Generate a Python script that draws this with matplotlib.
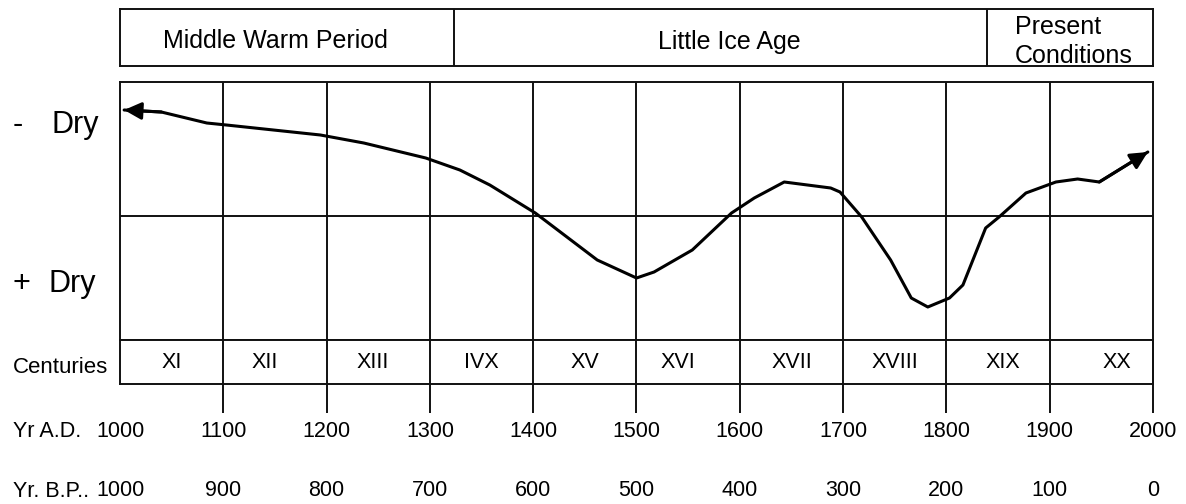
import matplotlib
matplotlib.use("Agg")
import matplotlib.pyplot as plt
import matplotlib.transforms as mtransforms

plt.rcParams['font.family'] = ['Liberation Sans', 'DejaVu Sans']

# dryness curve (0 = mean line, + up = less dry)
years = [1004, 1040, 1084, 1103, 1194, 1236, 1296, 1329, 1358, 1402, 1462, 1500,
         1517, 1554, 1592, 1614, 1643, 1688, 1697, 1718, 1746, 1766, 1782,
         1803, 1816, 1838, 1851, 1877, 1906, 1927, 1948, 1995]
dryness = [106, 104, 93, 91, 81, 73, 58, 46, 31, 3, -44, -62,
           -56, -34, 3, 18, 34, 28, 24, -1, -44, -82, -91,
           -82, -69, -12, -1, 23, 34, 37, 34, 64]

periods = ['Middle Warm Period', 'Little Ice Age', 'Present\nConditions']
period_bounds = [1000, 1323, 1839, 2000]

century_labels = ['XI', 'XII', 'XIII', 'IVX', 'XV', 'XVI', 'XVII', 'XVIII', 'XIX', 'XX']
century_pos = [1050, 1140, 1245, 1350, 1450, 1540, 1650, 1750, 1855, 1965]

ad_ticks = list(range(1000, 2001, 100))
bp_labels = ['1000', '900', '800', '700', '600', '500', '400', '300', '200', '100', '0']

W, H = 1186, 504
LW = 1.4
INK = '#111111'


def fx(px):
    return px / W


def fy(py):
    return 1 - py / H


def box(top, bottom):
    return [fx(120), fy(bottom), fx(1153) - fx(120), fy(top) - fy(bottom)]


fig = plt.figure(figsize=(W / 100, H / 100), dpi=100)

ax_top = fig.add_axes(box(9, 66))
ax = fig.add_axes(box(82, 340))
ax_cen = fig.add_axes(box(340, 384))

for a in (ax_top, ax, ax_cen):
    a.set_xlim(1000, 2000)
    a.set_xticks([])
    a.set_yticks([])
    for s in a.spines.values():
        s.set_linewidth(LW)
        s.set_color(INK)

# periods band
ax_top.set_ylim(0, 1)
ax_top.vlines(period_bounds[1:-1], 0, 1, color=INK, lw=LW)
ax_top.text(1150, 0.32, periods[0], ha='center', va='baseline', fontsize=18)
ax_top.text(1590, 0.30, periods[1], ha='center', va='baseline', fontsize=18)
ax_top.text(1866, 0.06, periods[2], ha='left', va='baseline', fontsize=18,
            linespacing=1.22)

# main panel
ax.set_ylim(-124, 134)
ax.axhline(0, color=INK, lw=LW)
ax.vlines(ad_ticks[1:-1], -124, 134, color=INK, lw=LW)
ax.plot(years, dryness, color='black', lw=2.2, solid_capstyle='round')
head = dict(arrowstyle='-|>', color='black', lw=2.2, mutation_scale=26,
            shrinkA=0, shrinkB=0)
ax.annotate('', xy=(years[0], dryness[0]), xytext=(years[1], dryness[1]),
            arrowprops=head)
ax.annotate('', xy=(years[-1], dryness[-1]), xytext=(years[-2], dryness[-2]),
            arrowprops=head)

# centuries row
ax_cen.set_ylim(0, 1)
trans = mtransforms.blended_transform_factory(ax_cen.transData, ax_cen.transAxes)
ax_cen.vlines(ad_ticks[1:], -0.65, 1, color=INK, lw=LW, transform=trans,
              clip_on=False)
for lab, x in zip(century_labels, century_pos):
    ax_cen.text(x, 0.36, lab, ha='center', va='baseline', fontsize=15.5)

# year rows
for yr, bp in zip(ad_ticks, bp_labels):
    ax_cen.text(yr, -1.2, str(yr), ha='center', va='baseline', fontsize=15.5,
                transform=trans, clip_on=False)
    ax_cen.text(yr, -2.55, bp, ha='center', va='baseline', fontsize=15.5,
                transform=trans, clip_on=False)

# left labels
fig.text(fx(13), fy(133), '-', fontsize=22, va='baseline')
fig.text(fx(51), fy(133), 'Dry', fontsize=22, va='baseline')
fig.text(fx(12), fy(292), '+', fontsize=22, va='baseline')
fig.text(fx(49), fy(292), 'Dry', fontsize=22, va='baseline')
fig.text(fx(13), fy(373), 'Centuries', fontsize=16, va='baseline')
fig.text(fx(13), fy(437), 'Yr A.D.', fontsize=15.5, va='baseline')
fig.text(fx(13), fy(497), 'Yr. B.P..', fontsize=15.5, va='baseline')

fig.savefig('out.png', dpi=100)
